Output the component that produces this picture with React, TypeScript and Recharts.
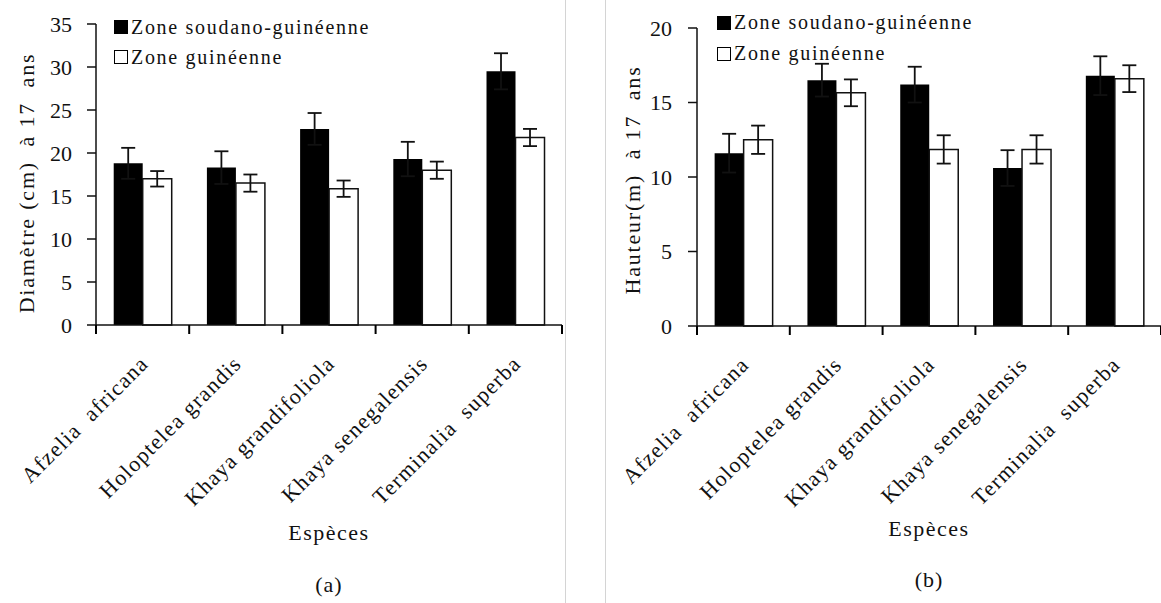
import React from 'react';
import { BarChart, Bar, XAxis, YAxis, ErrorBar, Legend, Label } from 'recharts';

// Species on the x axis (double spaces kept as printed)
const species = [
  'Afzelia  africana',
  'Holoptelea grandis',
  'Khaya grandifoliola',
  'Khaya senegalensis',
  'Terminalia  superba',
];

const zoneNames = ['Zone soudano-guinéenne', 'Zone guinéenne'];

// (a) Diameter at 17 years (cm)
const diamSoudano = [18.8, 18.3, 22.8, 19.3, 29.5];
const diamSoudanoErr = [1.8, 1.9, 1.85, 2.0, 2.1];
const diamGuinee = [17.0, 16.5, 15.85, 18.0, 21.8];
const diamGuineeErr = [0.9, 1.0, 0.95, 1.0, 1.0];

// (b) Height at 17 years (m)
const hautSoudano = [11.6, 16.5, 16.2, 10.6, 16.8];
const hautSoudanoErr = [1.3, 1.1, 1.2, 1.2, 1.3];
const hautGuinee = [12.5, 15.65, 11.85, 11.85, 16.6];
const hautGuineeErr = [0.95, 0.9, 0.95, 0.95, 0.9];

const diamTicks = [0, 5, 10, 15, 20, 25, 30, 35];
const hautTicks = [0, 5, 10, 15, 20];

const diamRows = species.map((name, i) => ({
  name,
  sg: diamSoudano[i],
  sgErr: diamSoudanoErr[i],
  g: diamGuinee[i],
  gErr: diamGuineeErr[i],
}));

const hautRows = species.map((name, i) => ({
  name,
  sg: hautSoudano[i],
  sgErr: hautSoudanoErr[i],
  g: hautGuinee[i],
  gErr: hautGuineeErr[i],
}));

const FONT = 'Liberation Serif, Times New Roman, serif';
const INK = '#111';

// Category tick: boundary tick marks (between groups) plus a rotated label
const SpeciesTick = (props: any) => {
  const { x, y, payload, index } = props;
  const half = Number(payload && payload.offset) || 0;
  const last = index === species.length - 1;
  const left = x - half;
  const right = x + half;
  const tx = x + 7;
  const ty = y + 40;
  return (
    <g>
      <rect x={left - 1} y={y} width={2} height={9} fill="#000" />
      {last ? <rect x={right - 1} y={y} width={2} height={9} fill="#000" /> : null}
      <text
        x={tx}
        y={ty}
        textAnchor="end"
        transform={`rotate(-45 ${tx} ${ty})`}
        fontFamily={FONT}
        fontSize={22}
        letterSpacing={1.3}
        fill={INK}
        style={{ whiteSpace: 'pre' }}
      >
        {payload.value}
      </text>
    </g>
  );
};

const ZoneLegend = ({ rowHeight }: { rowHeight: number }) => (
  <div style={{ fontFamily: FONT, fontSize: 20, letterSpacing: 1.7, color: INK }}>
    {zoneNames.map((n, i) => (
      <div
        key={n}
        style={{ display: 'flex', alignItems: 'center', height: rowHeight, whiteSpace: 'nowrap' }}
      >
        <span
          style={{
            display: 'inline-block',
            width: 14,
            height: 14,
            boxSizing: 'border-box',
            background: i === 0 ? '#000' : '#fff',
            border: '1.5px solid #000',
            marginRight: 3,
          }}
        />
        {n}
      </div>
    ))}
  </div>
);

const panelLabel = (title: string, tag: string, y1: number, y2: number) => (props: any) => {
  const vb = props.viewBox || {};
  const cx = vb.x + vb.width / 2;
  return (
    <g fontFamily={FONT} fill={INK} textAnchor="middle">
      <text x={cx} y={y1} fontSize={22} letterSpacing={1.5}>
        {title}
      </text>
      <text x={cx} y={y2} fontSize={22} letterSpacing={1}>
        {tag}
      </text>
    </g>
  );
};

const yTitle = (text: string, cx: number, cy: number) => () => (
  <text
    x={cx}
    y={cy}
    transform={`rotate(-90 ${cx} ${cy})`}
    textAnchor="middle"
    dominantBaseline="central"
    fontFamily={FONT}
    fontSize={22}
    letterSpacing={1.8}
    fill={INK}
    style={{ whiteSpace: 'pre' }}
  >
    {text}
  </text>
);

const yTick = { fontFamily: FONT, fontSize: 22, fill: INK };

export default function App() {
  return (
    <div
      style={{
        position: 'absolute',
        left: 0,
        top: 0,
        width: 1161,
        height: 603,
        background: '#fff',
        overflow: 'hidden',
        fontFamily: FONT,
      }}
    >
      {/* panel separators */}
      <div style={{ position: 'absolute', left: 565, top: 0, width: 1, height: 603, background: '#d4d4d4' }} />
      <div style={{ position: 'absolute', left: 605, top: 0, width: 1, height: 603, background: '#d4d4d4' }} />

      {/* (a) diameter */}
      <div style={{ position: 'absolute', left: 0, top: 0 }}>
        <BarChart
          width={565}
          height={603}
          data={diamRows}
          margin={{ top: 24, right: 3, bottom: 0, left: 0 }}
          barCategoryGap="19%"
          barGap={0}
        >
          <XAxis
            dataKey="name"
            height={278}
            interval={0}
            tickSize={0}
            tickMargin={0}
            tickLine={false}
            axisLine={{ stroke: INK, strokeWidth: 1.5 }}
            tick={<SpeciesTick />}
          >
            <Label content={panelLabel('Espèces', '(a)', 540, 592)} />
          </XAxis>
          <YAxis
            width={96}
            domain={[0, 35]}
            ticks={diamTicks}
            interval={0}
            tickSize={9}
            tickMargin={15}
            tick={yTick}
            tickLine={{ stroke: INK, strokeWidth: 1.5 }}
            axisLine={{ stroke: INK, strokeWidth: 1.5 }}
          >
            <Label content={yTitle('Diamètre (cm)  à 17  ans', 26, 183)} />
          </YAxis>
          <Legend
            layout="horizontal"
            verticalAlign="middle"
            align="center"
            wrapperStyle={{ top: 12, left: 114, width: 'auto' }}
            content={() => <ZoneLegend rowHeight={30} />}
          />
          <Bar dataKey="sg" name={zoneNames[0]} fill="#000" isAnimationActive={false}>
            <ErrorBar dataKey="sgErr" direction="y" width={7} stroke={INK} strokeWidth={1.8} />
          </Bar>
          <Bar
            dataKey="g"
            name={zoneNames[1]}
            fill="#fff"
            stroke={INK}
            strokeWidth={1.5}
            isAnimationActive={false}
          >
            <ErrorBar dataKey="gErr" direction="y" width={7} stroke={INK} strokeWidth={1.8} />
          </Bar>
        </BarChart>
      </div>

      {/* (b) height */}
      <div style={{ position: 'absolute', left: 580, top: 0 }}>
        <BarChart
          width={581}
          height={603}
          data={hautRows}
          margin={{ top: 28, right: 0, bottom: 0, left: 0 }}
          barCategoryGap="19%"
          barGap={0}
        >
          <XAxis
            dataKey="name"
            height={277}
            interval={0}
            tickSize={0}
            tickMargin={0}
            tickLine={false}
            axisLine={{ stroke: INK, strokeWidth: 1.5 }}
            tick={<SpeciesTick />}
          >
            <Label content={panelLabel('Espèces', '(b)', 536, 587)} />
          </XAxis>
          <YAxis
            width={117}
            domain={[0, 20]}
            ticks={hautTicks}
            interval={0}
            tickSize={9}
            tickMargin={16}
            tick={yTick}
            tickLine={{ stroke: INK, strokeWidth: 1.5 }}
            axisLine={{ stroke: INK, strokeWidth: 1.5 }}
          >
            <Label content={yTitle('Hauteur(m)  à 17  ans', 52, 180)} />
          </YAxis>
          <Legend
            layout="horizontal"
            verticalAlign="middle"
            align="center"
            wrapperStyle={{ top: 7, left: 137, width: 'auto' }}
            content={() => <ZoneLegend rowHeight={31} />}
          />
          <Bar dataKey="sg" name={zoneNames[0]} fill="#000" isAnimationActive={false}>
            <ErrorBar dataKey="sgErr" direction="y" width={7} stroke={INK} strokeWidth={1.8} />
          </Bar>
          <Bar
            dataKey="g"
            name={zoneNames[1]}
            fill="#fff"
            stroke={INK}
            strokeWidth={1.5}
            isAnimationActive={false}
          >
            <ErrorBar dataKey="gErr" direction="y" width={7} stroke={INK} strokeWidth={1.8} />
          </Bar>
        </BarChart>
      </div>
    </div>
  );
}
